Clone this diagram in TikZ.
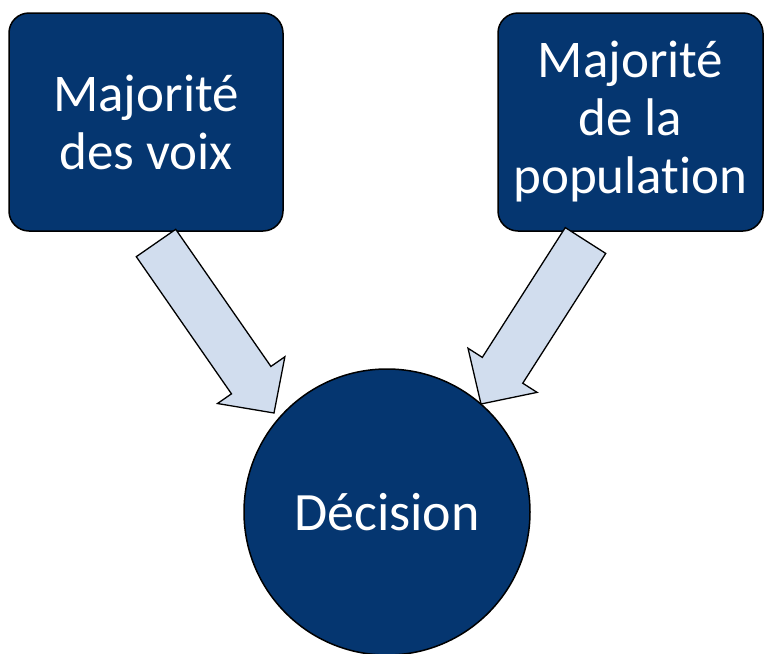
\documentclass[tikz,border=0pt]{standalone}
\usepackage{fontspec}
\setmainfont{Carlito}[Ligatures=NoCommon]
\usetikzlibrary{calc}
\definecolor{navy}{RGB}{5,54,112}
\definecolor{lightblue}{RGB}{209,221,238}
\newcommand\blockarrow[2]{%
  \coordinate (jj) at ($(#2)!40pt!(#1)$);
  \draw[arr] ($(#1)!24pt!90:(#2)$) -- ($(jj)!24pt!90:(#2)$) -- ($(jj)!41pt!90:(#2)$)
    -- (#2) -- ($(jj)!41pt!-90:(#2)$) -- ($(jj)!24pt!-90:(#2)$) -- ($(#1)!24pt!-90:(#2)$) -- cycle;}
\begin{document}
\begin{tikzpicture}[x=1pt,y=-1pt,
  box/.style={draw=black, line width=1.5pt, fill=navy, rounded corners=20pt, text=white,
    align=center, font=\fontsize{53}{58}\selectfont, inner sep=0pt},
  circ/.style={draw=black, line width=1.5pt, fill=navy, circle, minimum size=286pt, text=white,
    font=\fontsize{54}{58}\selectfont, inner sep=0pt},
  arr/.style={draw=black, line width=1.3pt, fill=lightblue, line join=miter}]
\useasboundingbox (0,0) rectangle (764,654);
\node[box, minimum width=274pt, minimum height=218pt] (voix) at (146,122) {Majorité\\des voix};
\node[box, minimum width=265pt, minimum height=218pt] (pop) at (630.5,122) {Majorité\\de la\\population};
\node[circ] (dec) at (387,512) {Décision};
\coordinate (la) at (156,243);
\coordinate (lb) at (274,413);
\coordinate (ra) at (585.5,240.5);
\coordinate (rb) at (481,404);
\blockarrow{la}{lb}
\blockarrow{ra}{rb}
\end{tikzpicture}
\end{document}
